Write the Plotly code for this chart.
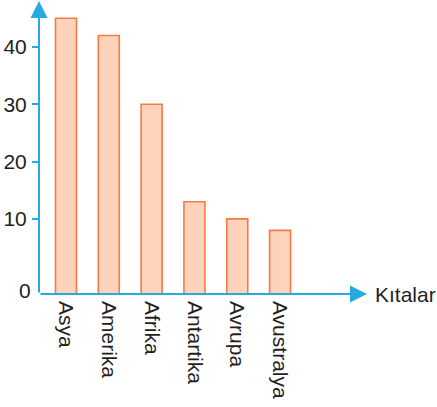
import plotly.graph_objects as go

categories = ["Asya", "Amerika", "Afrika", "Antartika", "Avrupa", "Avustralya"]
values = [45, 42, 30, 13, 10, 8]
y_tick_values = [10, 20, 30, 40]
y_tick_labels = ["10", "20", "30", "40"]
y_zero_label = "0"
x_title = "Kıtalar"

Y_MIN = -3.1   # broken axis: bottom of axis is labelled "0"
Y_MAX = 46.8
BLUE = "#27AAE1"
FONT = "Liberation Sans, Arial, sans-serif"
TEXT = "#231f20"
FS = 21

fig = go.Figure()
fig.add_trace(go.Bar(
    x=categories,
    y=[v - Y_MIN for v in values],
    base=Y_MIN,
    width=0.49,
    marker=dict(color="#FDD4BB", line=dict(color="#F37B45", width=1.6)),
    hoverinfo="skip",
))

fig.update_layout(
    width=437, height=407,
    margin=dict(l=39, r=82, t=8, b=113, autoexpand=False),
    paper_bgcolor="white", plot_bgcolor="white",
    showlegend=False,
    font=dict(family=FONT, color=TEXT, size=FS),
    xaxis=dict(
        range=[-0.63, 6.75], showgrid=False, zeroline=False, showline=False,
        automargin=False,
        tickangle=90, ticks="", ticklabelstandoff=6,
        tickfont=dict(size=FS, color=TEXT, family=FONT),
    ),
    yaxis=dict(
        range=[Y_MIN, Y_MAX], showgrid=False, zeroline=False, showline=False,
        automargin=False,
        tickvals=y_tick_values, ticktext=y_tick_labels,
        ticks="outside", ticklen=6, tickwidth=2, tickcolor=BLUE,
        ticklabelstandoff=1,
        tickfont=dict(size=FS, color=TEXT, family=FONT),
    ),
)

# "0" label at the bottom of the broken axis
fig.add_annotation(xref="x domain", yref="y", x=0, y=Y_MIN, xanchor="right",
                   yanchor="middle", xshift=-6, yshift=4, showarrow=False,
                   text=y_zero_label, font=dict(size=FS, color=TEXT, family=FONT))

# axis arrows
fig.add_annotation(xref="x domain", yref="y domain", axref="x domain", ayref="y domain",
                   x=0, y=1.0245, ax=0, ay=0, showarrow=True, text="",
                   arrowhead=2, arrowsize=1.7, arrowwidth=2, arrowcolor=BLUE)
fig.add_annotation(xref="x domain", yref="y domain", axref="x domain", ayref="y domain",
                   x=1.038, y=0, ax=0, ay=0, showarrow=True, text="",
                   arrowhead=2, arrowsize=1.7, arrowwidth=2, arrowcolor=BLUE)
fig.add_annotation(xref="paper", yref="paper", x=1.262, y=0, xanchor="right",
                   yanchor="middle", showarrow=False, text=x_title,
                   font=dict(size=FS, color=TEXT, family=FONT))

fig.write_html("out.html")
